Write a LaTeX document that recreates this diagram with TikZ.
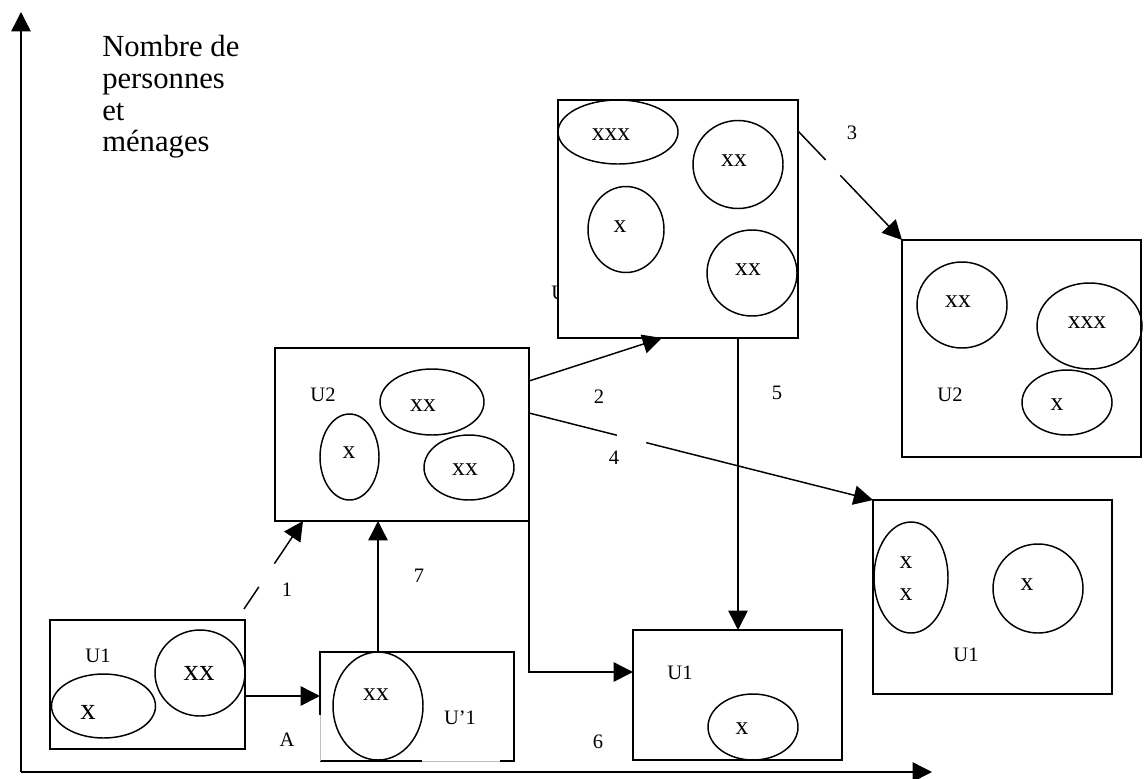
\documentclass[tikz,border=0pt]{standalone}
\usepackage{fontspec}
\setmainfont{Liberation Serif}
\usetikzlibrary{arrows.meta,shapes.geometric,fit,calc}
\newcommand\titlefont{\fontsize{23}{24}\selectfont}
\newcommand\labfont{\fontsize{15.4}{16}\selectfont}
\newcommand\xsfont{\fontsize{19.2}{20}\selectfont}
\newcommand\xbfont{\fontsize{23}{24}\selectfont}
\tikzset{
  box/.style={draw, line width=1.1pt, fill=white, inner sep=0pt, outer sep=0pt},
  ell/.style={draw, ellipse, line width=1.1pt, inner sep=0pt, outer sep=0pt},
  arr/.style={line width=1.1pt, -{Triangle[length=14.5pt,width=14.5pt]}},
  edge/.style={line width=1.1pt},
  faint/.style={line width=0.6pt, black!25},
  lbl/.style={inner sep=0pt, font=\labfont},
  xt/.style={inner sep=0pt, font=\xsfont},
  xb/.style={inner sep=0pt, font=\xbfont},
  ttl/.style={inner sep=0pt, anchor=base west, font=\titlefont}
}
\begin{document}
\begin{tikzpicture}[x=0.75pt,y=-0.75pt]
\useasboundingbox (0,0) rectangle (1144,778);
% axes
\coordinate (o) at (21,772);
\coordinate (ytop) at (21,12);
\coordinate (xend) at (932,772);
\draw[arr] (o) -- (ytop);
\draw[arr] (o) -- (xend);
% title
\node[ttl] (t1) at (102,56) {Nombre de};
\node[ttl] (t2) at (102,88) {personnes};
\node[ttl] (t3) at (102,120) {et};
\node[ttl] (t4) at (102,151) {ménages};
% hidden label behind top box
\node[lbl, anchor=base west] (uh) at (551,299) {U};
% boxes
\node[box, fit={(50,620) (245,749)}] (b1) {};
\node[inner sep=0pt, outer sep=0pt, fit={(320,652) (514,761)}] (b2) {};
\node[box, fit={(275,348) (529,521)}] (b3) {};
\node[box, fit={(558,100) (798,338)}] (b4) {};
\node[box, fit={(902,240) (1141,457)}] (b5) {};
\node[box, fit={(633,630) (842,760)}] (b6) {};
\node[box, fit={(873,500) (1112,694)}] (b7) {};
% box b2 with broken outline
\draw[edge] ($(b2.north west)+(0,63)$) -- (b2.north west) -- (b2.north east) -- (b2.south east) -- ($(b2.south east)+(-14,0)$);
\draw[edge] (b2.south west) -- ($(b2.south west)+(102,0)$);
\draw[faint] ($(b2.north west)+(0,63)$) -- (b2.south west);
\draw[faint] ($(b2.south west)+(102,0)$) -- ($(b2.south east)+(-14,0)$);
% ellipses
\node[ell, minimum width=78pt, minimum height=48pt] (e1a) at (103.5,706) {};
\node[ell, minimum width=67.5pt, minimum height=64.5pt] (e1b) at (200,673) {};
\node[ell, minimum width=67.5pt, minimum height=81pt] (e2) at (378,706) {};
\node[ell, minimum width=78pt, minimum height=49.5pt] (e3a) at (432,402) {};
\node[ell, minimum width=44.25pt, minimum height=64.5pt] (e3b) at (349.5,457) {};
\node[ell, minimum width=67.5pt, minimum height=48.75pt] (e3c) at (469,467.5) {};
\node[ell, minimum width=90pt, minimum height=48pt] (e4a) at (618,132) {};
\node[ell, minimum width=67.5pt, minimum height=66pt] (e4b) at (738,164.5) {};
\node[ell, minimum width=57pt, minimum height=64.5pt] (e4c) at (626,229.5) {};
\node[ell, minimum width=67.5pt, minimum height=64.5pt] (e4d) at (752,273) {};
\node[ell, minimum width=67.5pt, minimum height=64.5pt] (e5a) at (962,305) {};
\node[ell, minimum width=78.75pt, minimum height=64.5pt] (e5b) at (1089.5,326) {};
\node[ell, minimum width=67.5pt, minimum height=48.75pt] (e5c) at (1067,402.5) {};
\node[ell, minimum width=67.5pt, minimum height=49.5pt] (e6) at (753,727) {};
\node[ell, minimum width=55.5pt, minimum height=83.25pt] (e7a) at (911,577.5) {};
\node[ell, minimum width=67.5pt, minimum height=66.75pt] (e7b) at (1038,588.5) {};
% texts in boxes
\node[lbl] (u1a) at (98,656) {U1};
\node[xb] (x1a) at (88,712) {x};
\node[xb] (x1b) at (199,673) {xx};
\node[xt] (x2) at (376,695) {xx};
\node[lbl] (u1p) at (460,718) {U’1};
\node[lbl] (la) at (287,740) {A};
\node[lbl] (u2a) at (323,395) {U2};
\node[xt] (x3a) at (423,406) {xx};
\node[xt] (x3b) at (349,453) {x};
\node[xt] (x3c) at (465,470) {xx};
\node[xt] (x4a) at (611,135) {xxx};
\node[xt] (x4b) at (734,161) {xx};
\node[xt] (x4c) at (620,227) {x};
\node[xt] (x4d) at (748,270) {xx};
\node[xt] (x5a) at (958,302) {xx};
\node[xt] (x5b) at (1087,323) {xxx};
\node[xt] (x5c) at (1057,405) {x};
\node[lbl] (u2b) at (950,395) {U2};
\node[lbl] (u1b) at (680,673) {U1};
\node[xt] (x6) at (742,729) {x};
\node[xt] (x7a) at (906,563) {x};
\node[xt] (x7b) at (906,595) {x};
\node[xt] (x7c) at (1027,585) {x};
\node[lbl] (u1c) at (966,655) {U1};
% connector labels
\node[lbl] (n1) at (287,590) {1};
\node[lbl] (n7) at (419,576) {7};
\node[lbl] (n2) at (599,397) {2};
\node[lbl] (n5) at (777,393) {5};
\node[lbl] (n4) at (614,458) {4};
\node[lbl] (n3) at (852,133) {3};
\node[lbl] (n6) at (598,742) {6};
% connectors
\draw[arr] ($(b1.north east)+(0,76)$) -- ($(b2.north west)+(0,44)$);
\draw[arr, dash pattern=on 20pt off 21pt on 200pt off 1pt] ($(b1.north east)+(-1,-11)$) -- ($(b3.south west)+(28,0)$);
\draw[arr] ($(b2.north west)+(58,0)$) -- ($(b3.south west)+(103,0)$);
\draw[arr] ($(b3.north east)+(0,33)$) -- ($(b4.south west)+(104,0)$);
\draw[arr, dash pattern=on 68pt off 22.7pt on 400pt off 1pt] ($(b3.north east)+(0,65)$) -- (b7.north west);
\draw[arr, dash pattern=on 30pt off 16pt on 200pt off 1pt] ($(b4.north east)+(0,31)$) -- (b5.north west);
\draw[arr] ($(b4.south west)+(180,0)$) -- ($(b6.north west)+(105,0)$);
\draw[arr] (b3.south east) |- ($(b6.north west)+(0,42)$);
\end{tikzpicture}
\end{document}
